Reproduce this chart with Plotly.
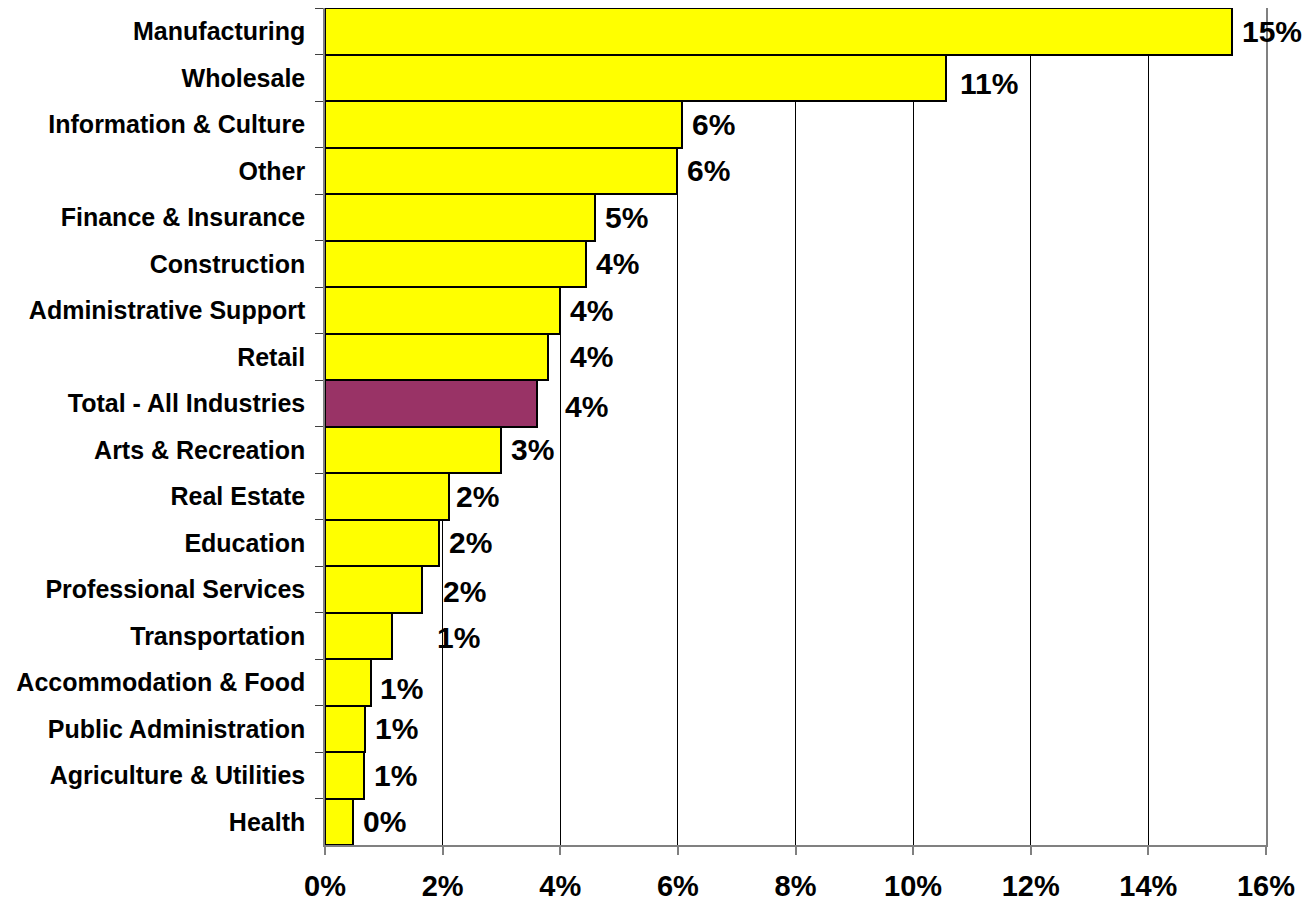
import plotly.graph_objects as go

categories = [
    "Manufacturing", "Wholesale", "Information & Culture", "Other",
    "Finance & Insurance", "Construction", "Administrative Support", "Retail",
    "Total - All Industries", "Arts & Recreation", "Real Estate", "Education",
    "Professional Services", "Transportation", "Accommodation & Food",
    "Public Administration", "Agriculture & Utilities", "Health",
]
values = [15.42, 10.56, 6.07, 5.99, 4.59, 4.44, 4.0, 3.79, 3.61, 2.99,
          2.11, 1.94, 1.65, 1.14, 0.78, 0.68, 0.66, 0.48]
highlight = "Total - All Industries"

# label offsets in pixels (style only): (dx, dy)
label_offsets = {
    "Wholesale": (12, 6), "Retail": (20, 0), "Total - All Industries": (26, 3),
    "Real Estate": (5, 0), "Professional Services": (19, 2),
    "Transportation": (43, 2), "Accommodation & Food": (7, 6),
}

YELLOW = "#FFFF00"
PURPLE = "#993366"
colors = [PURPLE if c == highlight else YELLOW for c in categories]

fig = go.Figure()
fig.add_trace(go.Bar(
    x=values, y=categories, orientation="h",
    marker=dict(color=colors, line=dict(color="black", width=2)),
    hoverinfo="skip",
))

for c, v in zip(categories, values):
    dx, dy = label_offsets.get(c, (8, 0))
    fig.add_annotation(
        x=v, y=c, xref="x", yref="y", text=f"{round(v)}%",
        showarrow=False, xanchor="left", yanchor="middle",
        xshift=dx, yshift=-dy,
        font=dict(family="Liberation Sans, Arial", size=30, color="black", weight="bold"),
    )

fig.update_layout(
    width=1302, height=893,
    margin=dict(l=317, r=44, t=0, b=56),
    paper_bgcolor="white", plot_bgcolor="white",
    bargap=0, showlegend=False,
    font=dict(family="Liberation Sans, Arial", color="black"),
)
fig.update_xaxes(
    range=[0, 16], dtick=2, ticksuffix="%",
    showgrid=True, gridcolor="black", gridwidth=1,
    zeroline=False,
    showline=True, linecolor="#808080", linewidth=2,
    ticks="outside", ticklen=8, tickcolor="#808080", tickwidth=1.5,
    tickfont=dict(size=29, weight="bold", color="black"),
    ticklabelstandoff=6,
)
fig.update_yaxes(
    autorange="reversed", type="category",
    showgrid=False, zeroline=False,
    showline=True, mirror=True, linecolor="#808080", linewidth=1.5,
    ticks="outside", ticklen=8, tickcolor="#404040", tickwidth=1,
    tickson="boundaries",
    tickfont=dict(size=25, weight="bold", color="black"),
    ticklabelstandoff=13,
)

fig.write_html("out.html")
